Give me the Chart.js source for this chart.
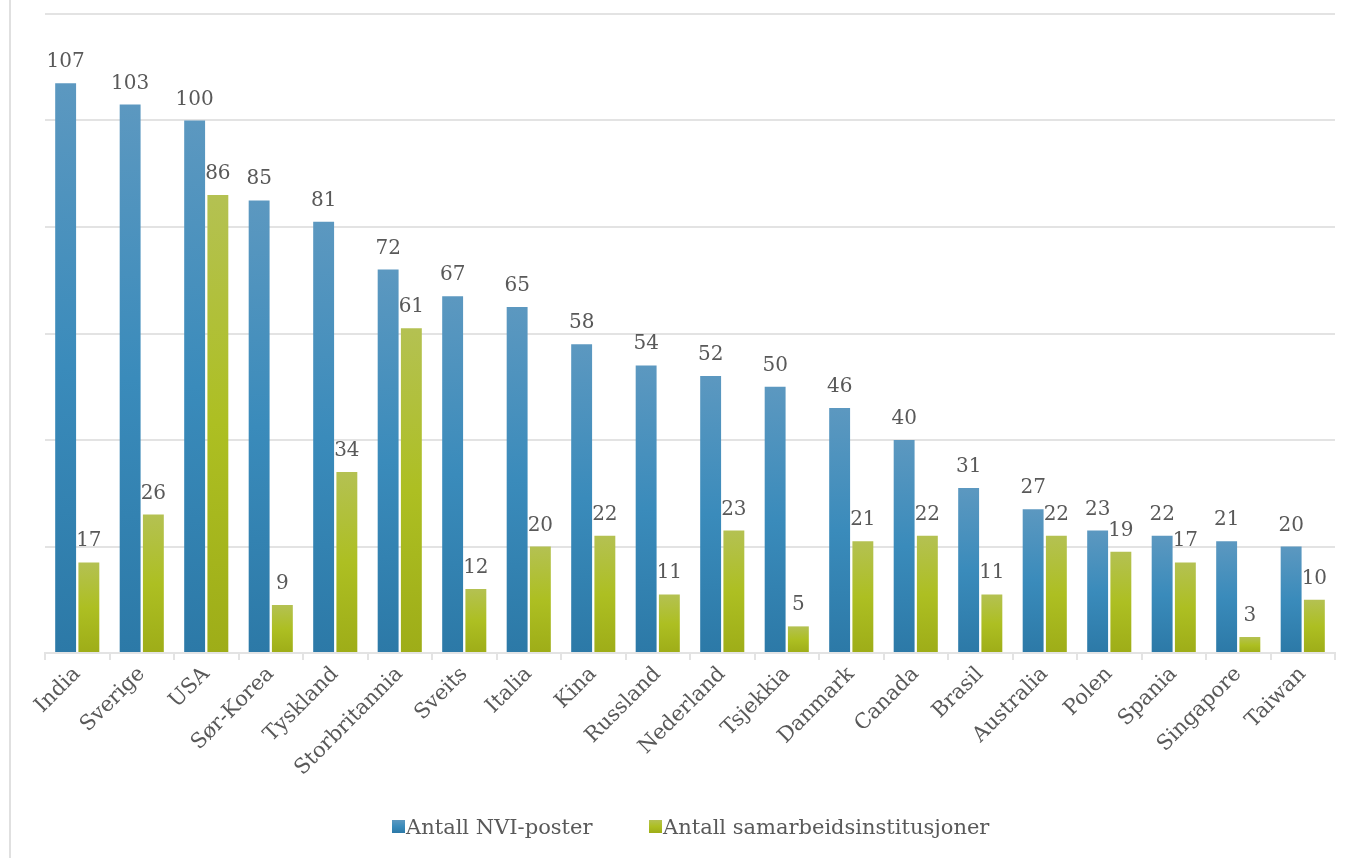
<!DOCTYPE html>
<html>
<head>
<meta charset="utf-8">
<script src="https://cdn.jsdelivr.net/npm/chart.js@4/dist/chart.umd.min.js"></script>
<style>
html,body{margin:0;padding:0;background:#fff;}
#wrap{width:1354px;height:858px;position:relative;}
</style>
</head>
<body>
<div id="wrap"><canvas id="c" width="1354" height="858"></canvas></div>
<script>
const categories = ["India","Sverige","USA","Sør-Korea","Tyskland","Storbritannia","Sveits","Italia","Kina","Russland","Nederland","Tsjekkia","Danmark","Canada","Brasil","Australia","Polen","Spania","Singapore","Taiwan"];
const nviPoster = [107,103,100,85,81,72,67,65,58,54,52,50,46,40,31,27,23,22,21,20];
const samarbeid = [17,26,86,9,34,61,12,20,22,11,23,5,21,22,11,22,19,17,3,10];
const seriesNames = ["Antall NVI-poster","Antall samarbeidsinstitusjoner"];
const yTicks = [0,20,40,60,80,100,120];

const FONT = "'DejaVu Serif', Georgia, serif";
const TEXT = '#595959';
const GRID = '#e3e3e3';
const stops = [
  ['#5c98c0','#3a8bbb','#2c79a7'],
  ['#b4c152','#adbf22','#9ead18']
];

function grad(ctx, top, bottom, s){
  const g = ctx.createLinearGradient(0, top, 0, bottom);
  g.addColorStop(0, s[0]); g.addColorStop(0.5, s[1]); g.addColorStop(1, s[2]);
  return g;
}
function barColor(i){
  return (c) => {
    const chart = c.chart;
    if (!chart.chartArea || c.type !== 'data') return stops[i][1];
    const y = chart.scales.y;
    const top = y.getPixelForValue(c.raw);
    const bottom = y.getPixelForValue(0);
    if (!isFinite(top) || !isFinite(bottom) || top === bottom) return stops[i][1];
    return grad(chart.ctx, top, bottom, stops[i]);
  };
}

const decor = {
  id: 'decor',
  beforeDraw(chart){
    const ctx = chart.ctx;
    ctx.save();
    ctx.strokeStyle = '#e0e0e0';
    ctx.lineWidth = 2;
    ctx.beginPath(); ctx.moveTo(10, 0); ctx.lineTo(10, chart.height); ctx.stroke();
    ctx.restore();
  },
  afterDatasetsDraw(chart){
    const ctx = chart.ctx;
    ctx.save();
    ctx.font = "20px " + FONT;
    ctx.fillStyle = TEXT;
    ctx.textAlign = 'center';
    ctx.textBaseline = 'alphabetic';
    chart.data.datasets.forEach((ds, di) => {
      const meta = chart.getDatasetMeta(di);
      meta.data.forEach((el, i) => {
        ctx.fillText(String(ds.data[i]), el.x, el.y - 16);
      });
    });
    // legend
    const items = [{x: 392, name: seriesNames[0], s: stops[0]}, {x: 649, name: seriesNames[1], s: stops[1]}];
    ctx.font = "21px " + FONT;
    ctx.textAlign = 'left';
    items.forEach(it => {
      ctx.fillStyle = grad(ctx, 820, 833, it.s);
      ctx.fillRect(it.x, 820, 13, 13);
      ctx.fillStyle = TEXT;
      ctx.fillText(it.name, it.x + 14, 834);
    });
    ctx.restore();
  }
};

new Chart(document.getElementById('c'), {
  type: 'bar',
  data: {
    labels: categories,
    datasets: [
      {label: seriesNames[0], data: nviPoster, backgroundColor: barColor(0), categoryPercentage: 0.72, barPercentage: 0.9},
      {label: seriesNames[1], data: samarbeid, backgroundColor: barColor(1), categoryPercentage: 0.72, barPercentage: 0.9}
    ]
  },
  options: {
    responsive: false,
    animation: false,
    layout: {padding: {left: 45, right: 19, top: 14, bottom: 0}},
    plugins: {legend: {display: false}, tooltip: {enabled: false}},
    scales: {
      x: {
        offset: true,
        grid: {display: true, offset: true, drawOnChartArea: false, drawTicks: true, tickLength: 7, color: GRID, lineWidth: 2},
        border: {display: true, color: GRID, width: 2},
        ticks: {font: {family: FONT, size: 21}, color: TEXT, maxRotation: 45, minRotation: 45, padding: 2, autoSkip: false},
        afterFit(scale){ scale.height = 205; }
      },
      y: {
        min: 0, max: 120,
        afterBuildTicks(scale){ scale.ticks = yTicks.map(v => ({value: v})); },
        grid: {color: GRID, lineWidth: 2, drawTicks: false},
        border: {display: false},
        ticks: {display: false}
      }
    }
  },
  plugins: [decor]
});
</script>
</body>
</html>
